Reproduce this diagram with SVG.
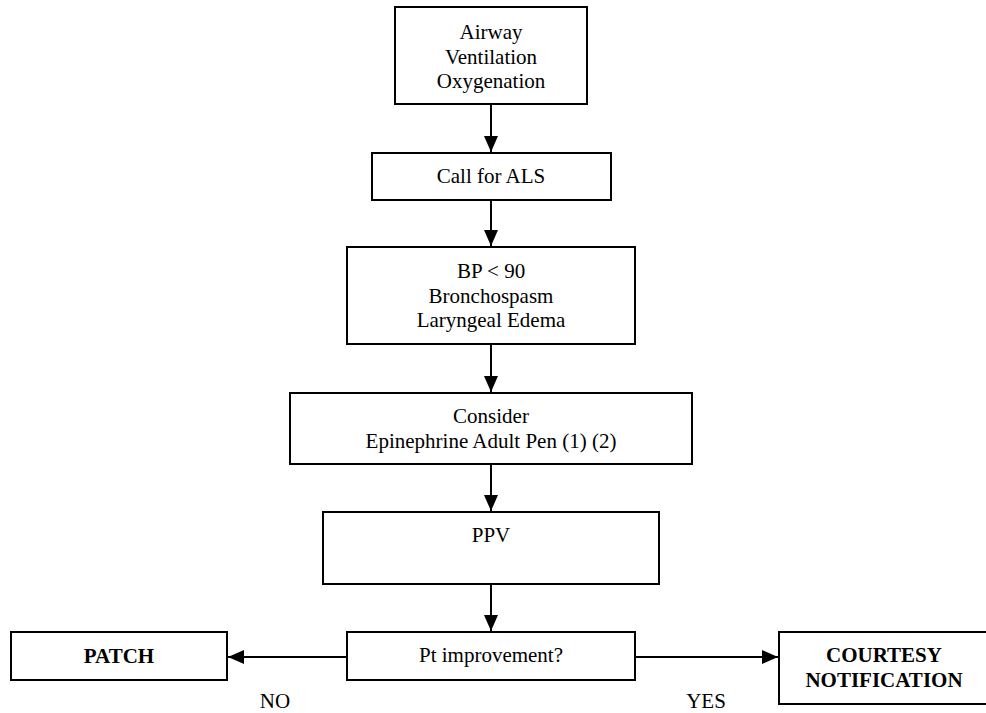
<svg xmlns="http://www.w3.org/2000/svg" width="986" height="713" viewBox="0 0 986 713">
  <style>
    .box { fill: #ffffff; stroke: #000000; stroke-width: 2; }
    .txt { font-family: "Liberation Serif", "Times New Roman", serif; font-size: 21px; fill: #000000; text-anchor: middle; }
    .bold { font-weight: bold; }
    .edge { fill: none; stroke: #000000; stroke-width: 2; marker-end: url(#arrow); }
  </style>
  <defs>
    <marker id="arrow" viewBox="0 0 16 14" refX="16" refY="7" markerWidth="16" markerHeight="14" markerUnits="userSpaceOnUse" orient="auto">
      <path d="M0,0 L16,7 L0,14 Z" fill="#000000"/>
    </marker>
  </defs>
  <rect width="986" height="713" fill="#ffffff"/>

  <!-- flow connectors -->
  <g id="connectors">
    <line class="edge" x1="491" y1="104" x2="491" y2="152"/>
    <line class="edge" x1="491" y1="200" x2="491" y2="246"/>
    <line class="edge" x1="491" y1="344" x2="491" y2="392"/>
    <line class="edge" x1="491" y1="464" x2="491" y2="511"/>
    <line class="edge" x1="491" y1="584" x2="491" y2="631"/>
    <line class="edge" x1="347" y1="657" x2="228" y2="657"/>
    <line class="edge" x1="635" y1="657" x2="778" y2="657"/>
  </g>

  <g id="airway">
    <rect class="box" x="395" y="7" width="192" height="97"/>
    <text class="txt" x="491" y="39">Airway</text>
    <text class="txt" x="491" y="64">Ventilation</text>
    <text class="txt" x="491" y="88">Oxygenation</text>
  </g>

  <g id="call-als">
    <rect class="box" x="372" y="153" width="239" height="47"/>
    <text class="txt" x="491" y="183">Call for ALS</text>
  </g>

  <g id="symptoms">
    <rect class="box" x="347" y="247" width="288" height="97"/>
    <text class="txt" x="491" y="278">BP &lt; 90</text>
    <text class="txt" x="491" y="303">Bronchospasm</text>
    <text class="txt" x="491" y="327">Laryngeal Edema</text>
  </g>

  <g id="epinephrine">
    <rect class="box" x="290" y="393" width="402" height="71"/>
    <text class="txt" x="491" y="423">Consider</text>
    <text class="txt" x="491" y="448">Epinephrine Adult Pen (1) (2)</text>
  </g>

  <g id="ppv">
    <rect class="box" x="323" y="512" width="336" height="72"/>
    <text class="txt" x="491" y="542">PPV</text>
  </g>

  <g id="improvement">
    <rect class="box" x="347" y="632" width="288" height="48"/>
    <text class="txt" x="491" y="662">Pt improvement?</text>
  </g>

  <g id="patch">
    <rect class="box" x="11" y="632" width="216" height="48"/>
    <text class="txt bold" x="119" y="663">PATCH</text>
  </g>

  <g id="courtesy">
    <rect class="box" x="779" y="632" width="212" height="72"/>
    <text class="txt bold" x="884" y="662">COURTESY</text>
    <text class="txt bold" x="884" y="687">NOTIFICATION</text>
  </g>

  <g id="labels">
    <text class="txt" x="275" y="708">NO</text>
    <text class="txt" x="706" y="708">YES</text>
  </g>
</svg>
